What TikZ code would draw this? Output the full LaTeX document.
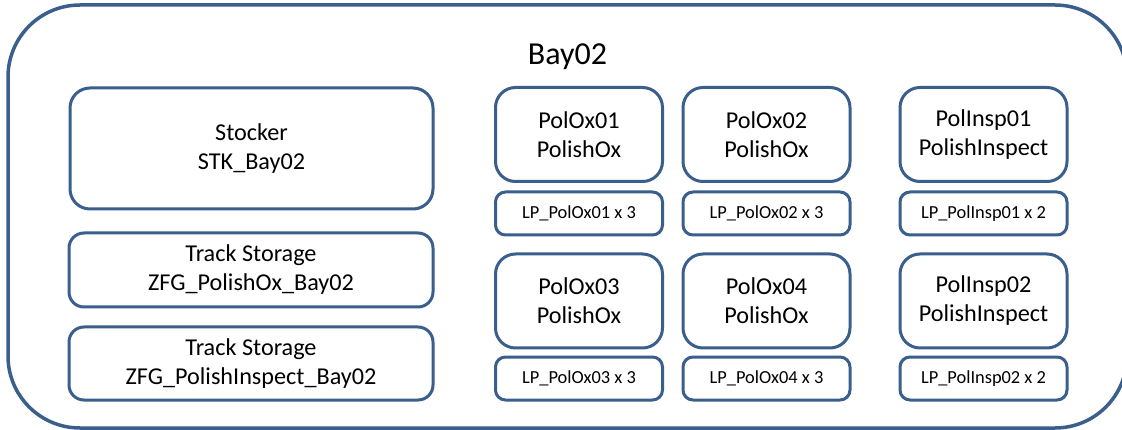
\documentclass[tikz,border=0pt]{standalone}
\usepackage{fontspec}
\setmainfont{Carlito}
\definecolor{boxblue}{RGB}{58,95,140}
\begin{document}
\begin{tikzpicture}[x=1pt,y=-1pt,
  outerbox/.style={draw=boxblue, line width=3.5pt, rounded corners=72pt, fill=white, inner sep=0pt},
  bigbox/.style={draw=boxblue, line width=3pt, rounded corners=20pt, fill=white, align=center, inner sep=0pt,
    font=\fontsize{24.2}{29}\selectfont},
  trackbox/.style={draw=boxblue, line width=3pt, rounded corners=15pt, fill=white, align=center, inner sep=0pt,
    font=\fontsize{24.2}{29}\selectfont},
  lpbox/.style={draw=boxblue, line width=3pt, rounded corners=10pt, fill=white, align=center, inner sep=0pt,
    minimum width=167pt, minimum height=43pt, font=\fontsize{18.4}{22}\selectfont},
  machbox/.style={bigbox, minimum width=167pt, minimum height=94pt},
  title/.style={font=\fontsize{32}{38}\selectfont, inner sep=0pt}
]
\useasboundingbox (0,0) rectangle (1122,430);
\clip (0,0) rectangle (1122,430);
\node[outerbox, minimum width=1119pt, minimum height=423pt] (bay) at (567.5,216.5) {};
\node[title, anchor=base] (baytitle) at (567.5,65) {Bay02};

\node[bigbox, minimum width=363pt, minimum height=121pt] (stk) at (251.5,148.5) {Stocker\\STK\_Bay02};
\node[trackbox, minimum width=364pt, minimum height=74pt] (trk1) at (251,270) {Track Storage\\ZFG\_PolishOx\_Bay02};
\node[trackbox, minimum width=364pt, minimum height=73pt] (trk2) at (251,363.5) {Track Storage\\ZFG\_PolishInspect\_Bay02};

\node[machbox] (ox1) at (579,134.5) {PolOx01\\PolishOx};
\node[lpbox] (lp1) at (579,213.5) {LP\_PolOx01 x 3};
\node[machbox] (ox2) at (766.5,134.5) {PolOx02\\PolishOx};
\node[lpbox] (lp2) at (766.5,213.5) {LP\_PolOx02 x 3};
\node[machbox] (ins1) at (983.5,134.5) {PolInsp01\\PolishInspect};
\node[lpbox] (lpi1) at (983.5,213.5) {LP\_PolInsp01 x 2};

\node[machbox] (ox3) at (579,301) {PolOx03\\PolishOx};
\node[lpbox] (lp3) at (579,378.5) {LP\_PolOx03 x 3};
\node[machbox] (ox4) at (766.5,301) {PolOx04\\PolishOx};
\node[lpbox] (lp4) at (766.5,378.5) {LP\_PolOx04 x 3};
\node[machbox] (ins2) at (983.5,301) {PolInsp02\\PolishInspect};
\node[lpbox] (lpi2) at (983.5,378.5) {LP\_PolInsp02 x 2};
\end{tikzpicture}
\end{document}
